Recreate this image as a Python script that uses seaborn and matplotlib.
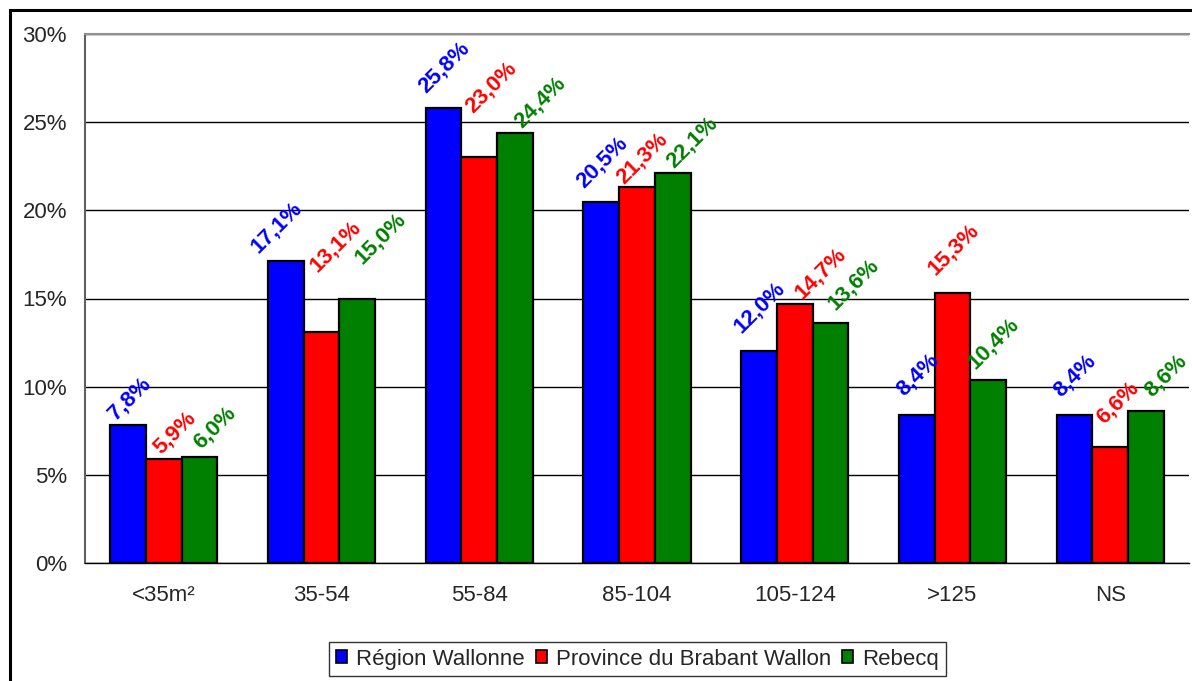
import matplotlib
matplotlib.use("Agg")
import matplotlib.pyplot as plt
from matplotlib.patches import Rectangle
from matplotlib.ticker import FixedLocator, FuncFormatter
import seaborn as sns
import pandas as pd

categories = ["<35m²", "35-54", "55-84", "85-104", "105-124", ">125", "NS"]
series_names = ["Région Wallonne", "Province du Brabant Wallon", "Rebecq"]
region_wallonne = [7.8, 17.1, 25.8, 20.5, 12.0, 8.4, 8.4]
brabant_wallon = [5.9, 13.1, 23.0, 21.3, 14.7, 15.3, 6.6]
rebecq = [6.0, 15.0, 24.4, 22.1, 13.6, 10.4, 8.6]
colors = ["#0000FF", "#FF0000", "#008000"]

# hand-placed label centres, in pixels from the top centre of each bar
offsets_region = [(1.5, 26.5), (-9.5, 34), (0.5, 40.5), (0.5, 39), (1, 44), (1.5, 40), (0.5, 39)]
offsets_brabant = [(11.5, 26.5), (14, 85.5), (11.5, 70), (5, 29.5), (25.5, 30), (1.5, 44), (8, 44)]
offsets_rebecq = [(15, 29.5), (23.5, 60), (25.5, 30), (19, 31), (23, 39), (5.5, 36.5), (20, 36)]

rows = []
for name, vals in zip(series_names, [region_wallonne, brabant_wallon, rebecq]):
    for cat, v in zip(categories, vals):
        rows.append({"cat": cat, "serie": name, "val": v})
df = pd.DataFrame(rows)

sns.set_style("white")
plt.rcParams["font.family"] = ["Liberation Sans", "DejaVu Sans"]

fig = plt.figure(figsize=(11.92, 6.81), dpi=100)
ax = fig.add_axes([85 / 1192, 1 - 563 / 681, (1189 - 85) / 1192, (563 - 34) / 681])

sns.barplot(data=df, x="cat", y="val", hue="serie", order=categories,
            hue_order=series_names, palette=colors, width=0.68,
            edgecolor="black", linewidth=1.6, saturation=1, ax=ax, zorder=3)

ax.set_ylim(0, 30)
ax.set_xlim(-0.5, len(categories) - 0.5)
ax.yaxis.set_major_locator(FixedLocator([0, 5, 10, 15, 20, 25, 30]))
ax.yaxis.set_major_formatter(FuncFormatter(lambda v, p: f"{int(v)}%"))
ax.grid(axis="y", color="black", linewidth=1, zorder=0)
ax.set_axisbelow(True)
ax.set_xlabel("")
ax.set_ylabel("")

# category ticks: labels at centres, tick marks at group boundaries
ax.tick_params(axis="x", which="major", length=0, pad=16, labelsize=16)
ax.xaxis.set_minor_locator(FixedLocator([i - 0.5 for i in range(len(categories) + 1)]))
ax.tick_params(axis="x", which="minor", length=7, width=1, color="black", direction="out")
ax.tick_params(axis="y", length=7, width=1, color="black", direction="out", labelsize=16, pad=6)

ax.spines["right"].set_visible(False)
ax.spines["top"].set_color("#909090")
ax.spines["top"].set_linewidth(1.5)
ax.spines["left"].set_color("#606060")
ax.spines["left"].set_linewidth(1.5)
ax.spines["bottom"].set_color("black")
ax.spines["bottom"].set_linewidth(1)

# value labels above each bar
for container, col, offs in zip(ax.containers, colors,
                                [offsets_region, offsets_brabant, offsets_rebecq]):
    for bar, (dx, dy) in zip(container, offs):
        h = bar.get_height()
        ax.annotate(f"{h:.1f}%".replace(".", ","),
                    xy=(bar.get_x() + bar.get_width() / 2, h),
                    xytext=(dx, dy), textcoords="offset pixels",
                    rotation=45, rotation_mode="anchor", ha="center", va="center",
                    color=col, fontsize=16, fontweight="bold", zorder=5)

leg = ax.legend(loc="upper center", bbox_to_anchor=(637.5 / 1192, 1 - 642 / 681),
                bbox_transform=fig.transFigure, ncol=3, frameon=True, fancybox=False,
                edgecolor="black", fontsize=16, handlelength=0.5, handleheight=0.5,
                handletextpad=0.4, columnspacing=0.5, borderpad=0.3, borderaxespad=0)
leg.get_frame().set_linewidth(1)
for h in leg.legend_handles:
    h.set_edgecolor("black")
    h.set_linewidth(1.2)

# chart area border
fig.patches.append(Rectangle((10 / 1192, -0.2), 1.2, 1.2 - 10 / 681,
                             transform=fig.transFigure, fill=False,
                             edgecolor="black", linewidth=2.2, zorder=0))

fig.savefig("out.png", dpi=100)
